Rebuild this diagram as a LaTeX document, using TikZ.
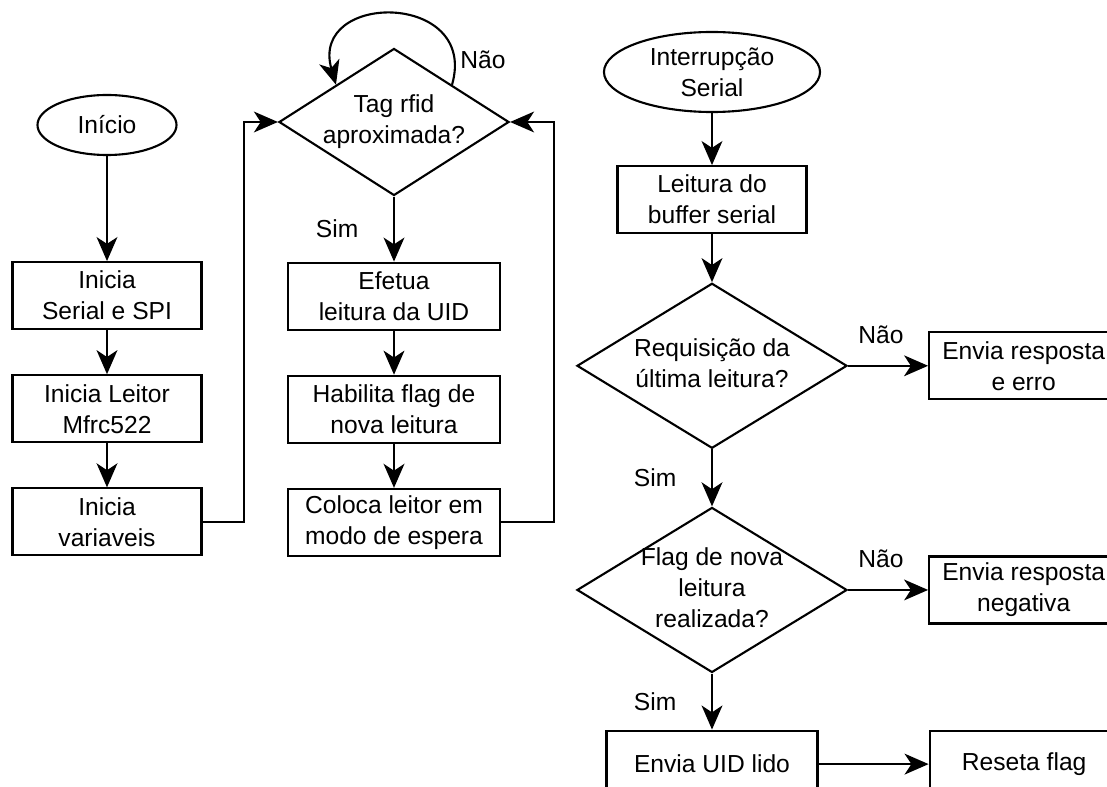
\documentclass[tikz,border=0pt]{standalone}
\usepackage{fontspec}
\setmainfont{Liberation Sans}
\usepackage{tikz}
\usetikzlibrary{arrows.meta,positioning,shapes.geometric}

\newcommand{\dtext}[1]{\raisebox{-.25em}[0pt][0pt]{\makebox[0pt]{\begin{tabular}{@{}c@{}}#1\end{tabular}}}}

\begin{document}
\begin{tikzpicture}[
        x=0.025cm, y=-0.025cm,
        font=\fontsize{17.5pt}{22pt}\selectfont,
        termsty/.style={
            draw, ellipse, line width=1.5pt,
            inner sep=0pt, align=center,
        },
        procsty/.style={
            draw, rectangle, line width=1.5pt, fill=white,
            minimum width=4.725cm,
            minimum height=1.675cm,
            inner sep=0pt, align=center,
        },
        decsty/.style={
            draw, diamond, line width=1.5pt,
            inner sep=0pt,
        },
        arrowsty/.style={-{Stealth[length=0.6cm,width=0.52cm,inset=0.17cm]}, line width=1.5pt},
        msgsty/.style={midway},
    ]

    \useasboundingbox (0,0) rectangle (1107,787);
    \fill[white] (0,0) rectangle (1107,787);
    \clip (0,0) rectangle (1107,787);

    \node[termsty, minimum width=3.475cm, minimum height=1.5cm] (inicio) at (107,125) {Início};
    \node[procsty, below=2.625cm of inicio] (serial) {Inicia\\Serial e SPI};
    \node[procsty, below=1.1cm of serial] (leitor) {Inicia Leitor\\Mfrc522};
    \node[procsty, below=1.1cm of leitor] (vars) {Inicia\\variaveis};

    \node[decsty, minimum width=5.75cm, minimum height=3.675cm] (tag) at (394,122) {\dtext{Tag rfid\\aproximada?}};
    \node[procsty, minimum width=5.3cm, below=1.625cm of tag] (uid) {Efetua\\leitura da UID};
    \node[procsty, minimum width=5.3cm, below=1.1cm of uid] (flag) {Habilita flag de\\nova leitura};
    \node[procsty, minimum width=5.3cm, below=1.1cm of flag] (espera) {Coloca leitor em\\modo de espera};

    \node[termsty, minimum width=5.4cm, minimum height=2cm] (irq) at (712,72) {Interrupção\\Serial};
    \node[procsty, below=1.3cm of irq] (buffer) {Leitura do\\buffer serial};
    \node[decsty, minimum width=6.75cm, minimum height=4.125cm, below=1.2cm of buffer] (req) {\dtext{Requisição da\\última leitura?}};
    \node[decsty, minimum width=6.75cm, minimum height=4.125cm, below=1.425cm of req] (nova) {\dtext{Flag de nova\\leitura\\realizada?}};
    \node[procsty, minimum width=5.275cm, below=1.4cm of nova] (envuid) {Envia UID lido};
    \node[procsty, right=2cm of req] (erro) {Envia resposta\\e erro};
    \node[procsty, right=2cm of nova] (negativa) {Envia resposta\\negativa};
    \node[procsty, right=2.75cm of envuid] (reseta) {Reseta flag};

    \draw[arrowsty] (inicio) -- (serial);
    \draw[arrowsty] (serial) -- (leitor);
    \draw[arrowsty] (leitor) -- (vars);
    \draw[arrowsty] (vars.east) -- ++(1.025cm,0) |- (tag.west);

    \draw[arrowsty] (tag.north east) to[out=74,in=106,looseness=2.15] node[pos=0.1, right] (nao1) {Não} (tag.north west);
    \draw[arrowsty] (tag) -- node[msgsty, left=0.75cm] (sim1) {Sim} (uid);
    \draw[arrowsty] (uid) -- (flag);
    \draw[arrowsty] (flag) -- (espera);
    \draw[arrowsty] (espera.east) -- ++(1.325cm,0) |- (tag.east);

    \draw[arrowsty] (irq) -- (buffer);
    \draw[arrowsty] (buffer) -- (req);
    \draw[arrowsty] (req) -- node[pos=0.41, above=0.4cm] (nao2) {Não} (erro);
    \draw[arrowsty] (req) -- node[msgsty, left=0.75cm] (sim2) {Sim} (nova);
    \draw[arrowsty] (nova) -- node[pos=0.41, above=0.4cm] (nao3) {Não} (negativa);
    \draw[arrowsty] (nova) -- node[msgsty, left=0.75cm] (sim3) {Sim} (envuid);
    \draw[arrowsty] (envuid) -- (reseta);

\end{tikzpicture}
\end{document}
